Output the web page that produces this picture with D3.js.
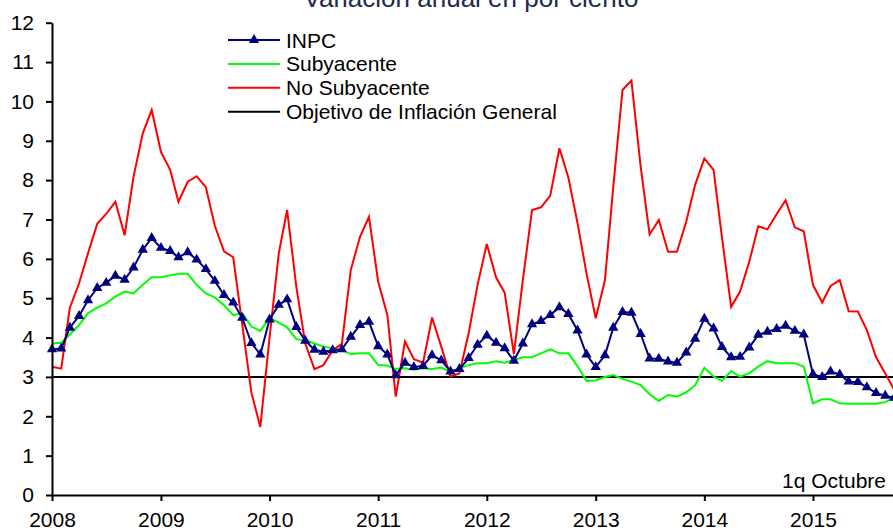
<!DOCTYPE html>
<html>
<head>
<meta charset="utf-8">
<script src="https://cdn.jsdelivr.net/npm/d3@7"></script>
<style>
  body { margin: 0; background: #fff; }
  text { font-family: "Liberation Sans", Arial, sans-serif; }
</style>
</head>
<body>
<script>
// monthly data, Jan 2008 - 1q Oct 2015
const months = d3.timeMonth.range(new Date(2008, 0, 1), new Date(2015, 10, 1));
const years = [2008, 2009, 2010, 2011, 2012, 2013, 2014, 2015];
const yTicks = [0, 1, 2, 3, 4, 5, 6, 7, 8, 9, 10, 11, 12];
const seriesNames = ["INPC", "Subyacente", "No Subyacente", "Objetivo de Inflación General"];
const objetivo = 3;

const inpc = [
  3.70, 3.72, 4.25, 4.55, 4.95, 5.26, 5.39, 5.57, 5.47, 5.78, 6.23, 6.53,
  6.28, 6.20, 6.04, 6.17, 5.98, 5.74, 5.44, 5.08, 4.89, 4.50, 3.86, 3.57,
  4.46, 4.83, 4.97, 4.27, 3.92, 3.69, 3.64, 3.68, 3.70, 4.02, 4.32, 4.40,
  3.78, 3.57, 3.04, 3.36, 3.25, 3.28, 3.55, 3.42, 3.14, 3.20, 3.48, 3.82,
  4.05, 3.87, 3.73, 3.41, 3.85, 4.34, 4.42, 4.57, 4.77, 4.60, 4.18, 3.57,
  3.25, 3.55, 4.25, 4.65, 4.63, 4.09, 3.47, 3.46, 3.39, 3.36, 3.62, 3.97,
  4.48, 4.23, 3.76, 3.50, 3.51, 3.75, 4.07, 4.15, 4.22, 4.30, 4.17, 4.08,
  3.07, 3.00, 3.14, 3.06, 2.88, 2.87, 2.74, 2.59, 2.52, 2.47
];

const subyacente = [
  3.85, 3.87, 4.08, 4.32, 4.62, 4.76, 4.87, 5.04, 5.17, 5.12, 5.34, 5.53,
  5.53, 5.58, 5.62, 5.62, 5.34, 5.12, 5.02, 4.82, 4.57, 4.62, 4.28, 4.17,
  4.50, 4.38, 4.26, 3.96, 3.93, 3.85, 3.77, 3.73, 3.68, 3.58, 3.60, 3.60,
  3.30, 3.29, 3.20, 3.22, 3.18, 3.22, 3.20, 3.24, 3.13, 3.22, 3.30, 3.35,
  3.35, 3.40, 3.36, 3.43, 3.50, 3.50, 3.60, 3.70, 3.60, 3.60, 3.27, 2.90,
  2.91, 3.00, 3.05, 2.95, 2.88, 2.79, 2.56, 2.39, 2.54, 2.50, 2.61, 2.79,
  3.23, 3.01, 2.90, 3.15, 3.01, 3.09, 3.26, 3.40, 3.35, 3.35, 3.35, 3.26,
  2.33, 2.43, 2.43, 2.33, 2.32, 2.32, 2.32, 2.32, 2.36, 2.47
];

const noSubyacente = [
  3.26, 3.21, 4.76, 5.38, 6.14, 6.89, 7.14, 7.45, 6.60, 8.09, 9.19, 9.78,
  8.72, 8.26, 7.45, 7.96, 8.10, 7.82, 6.84, 6.19, 6.04, 4.35, 2.60, 1.73,
  4.00, 6.14, 7.24, 5.29, 3.85, 3.20, 3.30, 3.68, 3.84, 5.72, 6.56, 7.07,
  5.42, 4.57, 2.50, 3.90, 3.45, 3.36, 4.51, 3.77, 3.01, 3.09, 4.11, 5.34,
  6.38, 5.53, 5.14, 3.58, 5.46, 7.24, 7.31, 7.60, 8.81, 8.07, 6.90, 5.63,
  4.49, 5.46, 7.83, 10.29, 10.53, 8.34, 6.62, 6.99, 6.18, 6.18, 6.94, 7.88,
  8.55, 8.26, 6.56, 4.78, 5.17, 5.93, 6.83, 6.75, 7.14, 7.49, 6.80, 6.70,
  5.34, 4.89, 5.31, 5.46, 4.67, 4.66, 4.19, 3.50, 3.09, 2.67
];

const w = 893;
const h = 530;
const plotLeft = 52;
const plotBottom = 495;
const plotTop = 22.7;
const yearWidth = 108.7;
const font = 21;

const svg = d3
  .select("body")
  .append("svg")
  .attr("width", w)
  .attr("height", h);

// scales
const xScale = d3
  .scaleTime()
  .domain([new Date(2008, 0, 1), new Date(2016, 0, 1)])
  .range([plotLeft, plotLeft + 8 * yearWidth]);

const yScale = d3.scaleLinear().domain([0, 12]).range([plotBottom, plotTop]);

// title (cut off at the top)
svg
  .append("text")
  .attr("x", 471)
  .attr("y", 7)
  .attr("text-anchor", "middle")
  .attr("font-size", 26)
  .attr("fill", "#1d2b4f")
  .text("Variación anual en por ciento");

// target line
svg
  .append("line")
  .attr("x1", plotLeft)
  .attr("x2", w)
  .attr("y1", yScale(objetivo))
  .attr("y2", yScale(objetivo))
  .attr("stroke", "#000")
  .attr("stroke-width", 2);

const line = d3
  .line()
  .x((d, i) => xScale(months[i]))
  .y((d) => yScale(d));

svg
  .append("path")
  .datum(subyacente)
  .attr("d", line)
  .attr("fill", "none")
  .attr("stroke", "#00ff00")
  .attr("stroke-width", 2);

svg
  .append("path")
  .datum(noSubyacente)
  .attr("d", line)
  .attr("fill", "none")
  .attr("stroke", "#ff0000")
  .attr("stroke-width", 2);

svg
  .append("path")
  .datum(inpc)
  .attr("d", line)
  .attr("fill", "none")
  .attr("stroke", "#000080")
  .attr("stroke-width", 2);

const tri = d3.symbol().type(d3.symbolTriangle).size(46);

svg
  .selectAll(".marker")
  .data(inpc)
  .enter()
  .append("path")
  .attr("class", "marker")
  .attr("d", tri)
  .attr("transform", (d, i) => `translate(${xScale(months[i])},${yScale(d)})`)
  .attr("fill", "#000080");

// axes
const yAxis = d3
  .axisLeft(yScale)
  .tickValues(yTicks)
  .tickSize(6)
  .tickSizeOuter(0)
  .tickPadding(12);

const xAxis = d3
  .axisBottom(xScale)
  .tickValues(years.map((y) => new Date(y, 0, 1)))
  .tickFormat(d3.timeFormat("%Y"))
  .tickSize(6)
  .tickSizeOuter(0)
  .tickPadding(11);

const gx = svg
  .append("g")
  .attr("transform", `translate(0,${plotBottom})`)
  .call(xAxis);

const gy = svg
  .append("g")
  .attr("transform", `translate(${plotLeft},0)`)
  .call(yAxis);

[gx, gy].forEach((g) => {
  g.select(".domain").attr("stroke", "#000").attr("stroke-width", 2);
  g.selectAll(".tick line").attr("stroke", "#000").attr("stroke-width", 2);
  g.selectAll(".tick text")
    .attr("fill", "#000")
    .attr("font-size", font)
    .attr("font-family", "Liberation Sans, Arial, sans-serif");
});

// note
svg
  .append("text")
  .attr("x", 886)
  .attr("y", 488)
  .attr("text-anchor", "end")
  .attr("font-size", font)
  .attr("fill", "#000")
  .text("1q Octubre");

// legend
const legendColors = ["#000080", "#00ff00", "#ff0000", "#000"];
const legend = svg
  .selectAll(".legend")
  .data(seriesNames)
  .enter()
  .append("g")
  .attr("class", "legend")
  .attr("transform", (d, i) => `translate(228,${40 + i * 23.9})`);

legend
  .append("line")
  .attr("x1", 0)
  .attr("x2", 52)
  .attr("stroke", (d, i) => legendColors[i])
  .attr("stroke-width", 2);

legend
  .filter((d, i) => i === 0)
  .append("path")
  .attr("d", tri)
  .attr("transform", "translate(26,0)")
  .attr("fill", "#000080");

legend
  .append("text")
  .attr("x", 58)
  .attr("dy", "0.36em")
  .attr("font-size", font)
  .attr("fill", "#000")
  .text((d) => d);
</script>
</body>
</html>
